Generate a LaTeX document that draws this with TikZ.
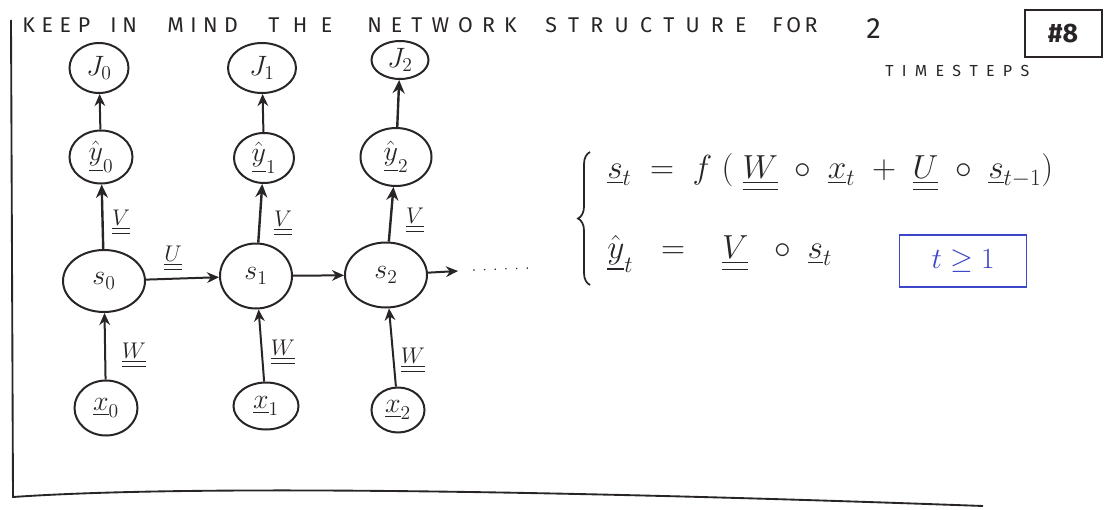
\RequirePackage{fix-cm}
\documentclass[tikz,border=0pt]{standalone}
\usepackage{amsmath}
\usepackage{fontspec}
\usetikzlibrary{shapes.geometric,arrows.meta,decorations.pathreplacing}
\newfontfamily\hand{Fira Sans}
\definecolor{ink}{RGB}{40,36,40}
\definecolor{penblue}{RGB}{60,70,200}
\newcommand{\vv}[1]{\underline{#1}}
\newcommand{\mm}[1]{\underline{\underline{#1}}}
\newcommand{\spword}[2]{\makebox[#1][s]{#2}}
\begin{document}
\begin{tikzpicture}[x=0.75pt,y=-0.75pt,
  sz/.style 2 args={minimum width=#1*0.75pt, minimum height=#2*0.75pt},
  cell/.style={draw=ink, line width=1.5pt, ellipse, inner sep=0pt, text=ink, font=\fontsize{21}{23}\selectfont},
  link/.style={draw=ink, line width=1.5pt, -{Stealth[length=9pt,width=8pt]}},
  heavy/.style={draw=ink, line width=1.8pt, -{Stealth[length=10pt,width=9pt]}},
  wlabel/.style={font=\fontsize{17}{19}\selectfont, inner sep=0pt, text=ink},
  titleword/.style={font=\hand\fontsize{16}{18}\selectfont, anchor=west, inner sep=0pt, text=ink},
  eq/.style={font=\fontsize{25}{30}\selectfont, anchor=base west, inner sep=0pt, text=ink}]
\useasboundingbox (0,0) rectangle (1113,510);

% frame
\coordinate (fa) at (11,20);
\coordinate (fb) at (13,497);
\coordinate (fc) at (983,506);
\draw[ink, line width=1.4pt] (fa) -- (fb) .. controls (200,484) and (600,492) .. (fc);

% title
\node[titleword] (t1) at (22,25) {\spword{51pt}{K\hfill E\hfill E\hfill P}};
\node[titleword] (t2) at (110,25) {\spword{20pt}{I\hfill N}};
\node[titleword] (t3) at (167,25) {\spword{53pt}{M\hfill I\hfill N\hfill D}};
\node[titleword] (t4) at (268,25) {\spword{48pt}{T\hfill H\hfill E}};
\node[titleword] (t5) at (367,25) {\spword{112pt}{N\hfill E\hfill T\hfill W\hfill O\hfill R\hfill K}};
\node[titleword] (t6) at (545,25) {\spword{151pt}{S\hfill T\hfill R\hfill U\hfill C\hfill T\hfill U\hfill R\hfill E}};
\node[titleword] (t7) at (772,25) {\spword{34pt}{F\hfill O\hfill R}};
\node[titleword, font=\hand\fontsize{22}{24}\selectfont] (t8) at (866,29) {2};
\node[titleword, font=\hand\fontsize{12}{14}\selectfont] (ts) at (885,71) {\spword{108pt}{T\hfill I\hfill M\hfill E\hfill S\hfill T\hfill E\hfill P\hfill S}};
\node[draw=ink, line width=1.5pt, sz={77}{47}, font=\hand\bfseries\fontsize{20}{22}\selectfont, text=ink] (num) at (1063,34) {\#8};

% nodes
\node[cell, sz={59}{50}] (J0) at (99,68) {$J_0$};
\node[cell, sz={68}{50}] (J1) at (262,68) {$J_1$};
\node[cell, sz={57}{38}] (J2) at (400,60) {$J_2$};

\node[cell, sz={63}{53}] (y0) at (101,157) {$\hat{\vv{y}}_0$};
\node[cell, sz={60}{50}] (y1) at (264,158) {$\hat{\vv{y}}_1$};
\node[cell, sz={71}{58}] (y2) at (396,157) {$\hat{\vv{y}}_2$};

\node[cell, sz={82}{62}] (s0) at (104,281) {$s_0$};
\node[cell, sz={72}{65}] (s1) at (256,276) {$s_1$};
\node[cell, sz={82}{65}] (s2) at (386,275) {$s_2$};

\node[cell, sz={63}{55}] (x0) at (106,408) {$\vv{x}_0$};
\node[cell, sz={65}{47}] (x1) at (266,406) {$\vv{x}_1$};
\node[cell, sz={53}{45}] (x2) at (398,410) {$\vv{x}_2$};

% connectors
\draw[link] (y0) -- (J0);
\draw[link] (y1) -- (J1);
\draw[heavy] (y2) -- (J2);
\draw[heavy] (s0) -- (y0);
\draw[heavy] (s1) -- (y1);
\draw[heavy] (s2) -- (y2);
\draw[link] (s0) -- (s1);
\draw[link] (s1) -- (s2);
\coordinate (cont) at (458,271);
\draw[link] (s2) -- (cont);
\coordinate (da) at (474,270);
\coordinate (db) at (530,268);
\draw[ink, line width=1.3pt, line cap=round, dash pattern=on 0pt off 8pt] (da) -- (db);
\draw[link] (x0) -- (s0);
\draw[link] (x1) -- (s1);
\draw[link] (x2) -- (s2);

% weight labels
\node[wlabel] (lv0) at (121,222) {$\mm{V}$};
\node[wlabel] (lv1) at (283,223) {$\mm{V}$};
\node[wlabel] (lv2) at (415,220) {$\mm{V}$};
\node[wlabel] (lu) at (173,258) {$\mm{U}$};
\node[wlabel] (lw0) at (134,355) {$\mm{W}$};
\node[wlabel] (lw1) at (283,352) {$\mm{W}$};
\node[wlabel] (lw2) at (413,360) {$\mm{W}$};

% equations
\coordinate (ba) at (590,285);
\coordinate (bb) at (590,152);
\draw[ink, line width=1.3pt, decorate, decoration={brace, amplitude=9pt}] (ba) -- (bb);
\node[eq] (eq1) at (607,178) {$\vv{s}_t \;=\; f\;(\;\mm{W}\;\circ\;\vv{x}_t \;+\; \mm{U}\;\circ\;\vv{s}_{t-1})$};
\node[eq] (eq2) at (607,258) {$\hat{\vv{y}}_t \;\;=\;\;\; \mm{V}\;\;\circ\;\vv{s}_t$};
\node[draw=penblue, text=penblue, line width=1.4pt, sz={127}{52}, font=\fontsize{22}{24}\selectfont] (cond) at (963,261) {$t\geq 1$};
\end{tikzpicture}
\end{document}
